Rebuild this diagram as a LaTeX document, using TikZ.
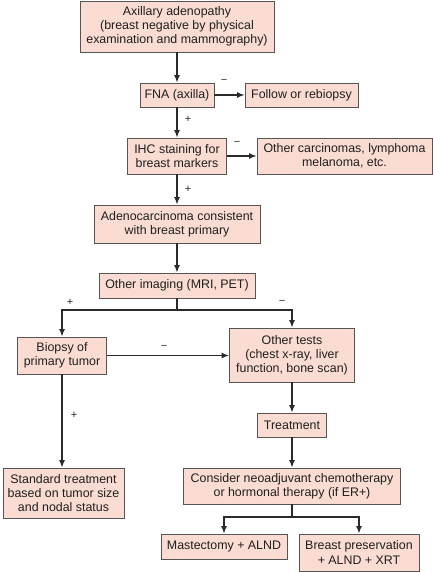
\documentclass[tikz,border=0pt]{standalone}
\usepackage{fontspec}
\setmainfont{Liberation Sans}
\usetikzlibrary{arrows.meta}
\definecolor{boxfill}{HTML}{FADCD2}
\definecolor{boxline}{HTML}{555555}
\definecolor{arrline}{HTML}{2A2A2A}
\tikzset{
  box/.style={draw=boxline, line width=0.9pt, fill=boxfill, rectangle, inner sep=0pt,
    align=center, font=\fontsize{12.4}{14}\selectfont, text=black!88},
  conn/.style={draw=arrline, line width=1.3pt},
  arr/.style={conn, -{Latex[length=7.5pt,width=6pt]}},
  sign/.style={font=\fontsize{11}{11}\selectfont, text=black!85, inner sep=0pt}
}
\newcommand{\bx}[6]{\node[box, minimum width=#4pt, minimum height=#5pt] (#1) at (#2,#3) {#6};}
\begin{document}
\begin{tikzpicture}[x=1pt,y=-1pt]
\useasboundingbox (0,0) rectangle (433,572);
\bx{ax}{177}{26.5}{194}{51}{Axillary adenopathy\\(breast negative by physical\\examination and mammography)}
\bx{fna}{177}{95}{74}{24}{FNA (axilla)}
\bx{fol}{301.5}{95}{113}{24}{Follow or rebiopsy}
\bx{ihc}{177}{156}{99}{36}{IHC staining for\\breast markers}
\bx{oth}{344.5}{156}{175}{36}{Other carcinomas, lymphoma\\melanoma, etc.}
\bx{adc}{177}{224}{166}{38}{Adenocarcinoma consistent\\with breast primary}
\bx{img}{177}{285.5}{156}{25}{Other imaging (MRI, PET)}
\bx{bio}{62}{355.5}{89}{37}{Biopsy of\\primary tumor}
\bx{ot}{292}{355}{125}{54}{Other tests\\(chest x-ray, liver\\function, bone scan)}
\bx{trt}{292}{425}{69}{24}{Treatment}
\bx{std}{63.5}{493}{121}{50}{Standard treatment\\based on tumor size\\and nodal status}
\bx{con}{292}{486}{217}{36}{Consider neoadjuvant chemotherapy\\or hormonal therapy (if ER+)}
\bx{mas}{224}{546.5}{126}{25}{Mastectomy + ALND}
\bx{bre}{359}{552.5}{120}{37}{Breast preservation\\+ ALND + XRT}

\coordinate (j1) at (177,310);
\coordinate (j2) at (292,517);

\draw[arr] (ax) -- (fna);
\draw[arr] (fna) -- (fol);
\draw[arr] (fna) -- (ihc);
\draw[arr] (ihc) -- (oth);
\draw[arr] (ihc) -- (adc);
\draw[arr] (adc) -- (img);
\draw[conn] (img.south) -- (j1);
\draw[arr] (j1) -| (bio.north);
\draw[arr] (j1) -| (ot.north);
\draw[arr] (bio.east) -- (bio.east -| ot.west);
\draw[arr] (bio.south) -- (bio.south |- std.north);
\draw[arr] (ot) -- (trt);
\draw[arr] (trt) -- (con);
\draw[conn] (con.south) -- (j2);
\draw[arr] (j2) -| (mas.north);
\draw[arr] (j2) -| (bre.north);

\node[sign] (s1) at (224,81) {−};
\node[sign] (s2) at (188,119) {+};
\node[sign] (s3) at (237,143) {−};
\node[sign] (s4) at (188,189) {+};
\node[sign] (s5) at (70,302) {+};
\node[sign] (s6) at (282,302) {−};
\node[sign] (s7) at (164,347) {−};
\node[sign] (s8) at (74,415) {+};
\end{tikzpicture}
\end{document}
